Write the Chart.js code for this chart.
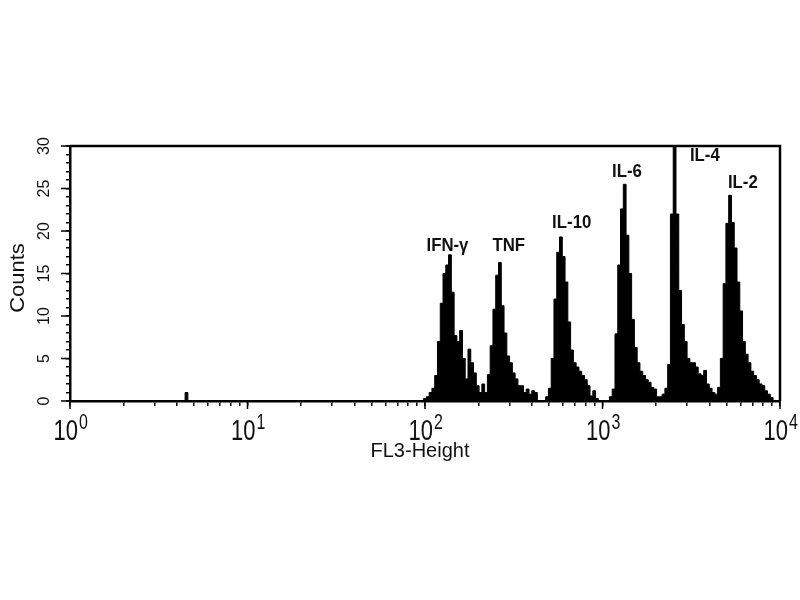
<!DOCTYPE html>
<html>
<head>
<meta charset="utf-8">
<title>FL3-Height histogram</title>
<script src="https://cdn.jsdelivr.net/npm/chart.js@4.4.0/dist/chart.umd.min.js"></script>
<style>
  html, body { margin: 0; padding: 0; background: #fff; }
  #wrap { width: 800px; height: 600px; }
</style>
</head>
<body>
<div id="wrap"><canvas id="histChart" width="800" height="600"></canvas></div>
<script>
// 256 channels over 4 decades -> 64 channels per decade
const CHANNELS_PER_DECADE = 64;
const LAST_CHANNEL = 256;

// lone event far left
const blipChannels = [42];
const blipCounts = [1];

// counts for channels 128..255 (the six bead peaks)
const firstPeakChannel = 128;
const peakCounts = [
  0.3, 0.5, 1, 1.5, 3, 7, 11.5, 15, 16, 17.2, 12.8, 7.7, 7, 8.3, 5, 2.6,
  6.1, 4.5, 3.3, 1.8, 1, 2, 1, 3.1, 6.5, 10.8, 14.8, 16.3, 11.2, 8, 5.3, 4.5,
  3.3, 2.6, 1.8, 1.8, 1, 1.4, 0.8, 1.2, 1, 0, 0, 0, 0.5, 1.5, 5, 12,
  17.5, 19.3, 17, 14, 9.3, 6, 4.5, 4, 3.5, 3, 2.5, 1.8, 0.6, 1.2, 0.3, 0,
  0, 0, 0, 0.5, 1.4, 7.9, 16, 22.6, 25.5, 19.5, 15, 9.6, 6.3, 4.5, 3.5, 3,
  2.5, 2.2, 1.6, 1.4, 0.5, 0.5, 0.8, 1.5, 4.3, 22, 30, 22, 13, 9, 7, 5,
  4.5, 4.5, 4, 3.2, 3, 3.6, 2, 1.5, 1, 0.8, 1.6, 5, 13.8, 20.9, 24.2, 21,
  18, 14, 10.6, 7, 5.5, 4.5, 3.5, 3, 2.5, 2, 1.8, 1.2, 0.8, 0.4, 0, 0
];

// peak annotations (label centre in channel / count units)
const peakLabels = ["IFN-γ", "TNF", "IL-10", "IL-6", "IL-4", "IL-2"];
const labelChannels = [136.1, 158.2, 180.9, 200.8, 228.9, 242.6];
const labelCounts = [18.2, 18.2, 21.0, 26.9, 28.8, 25.7];

// axes
const xDecades = [0, 1, 2, 3, 4];
const yTickLabels = [0, 5, 10, 15, 20, 25, 30];
const yMax = 30;

const FONT = '"Liberation Sans", Arial, sans-serif';

function channelToValue(ch) {
  return Math.pow(10, ch / CHANNELS_PER_DECADE);
}

// histogram points sit on the left edge of each channel bin,
// the step holds the count until the next edge
const points = [{ x: channelToValue(0), y: 0 }];
blipChannels.forEach((ch, i) => {
  points.push({ x: channelToValue(ch - 0.5), y: blipCounts[i] });
  points.push({ x: channelToValue(ch + 0.5), y: 0 });
});
peakCounts.forEach((c, i) => {
  points.push({ x: channelToValue(firstPeakChannel + i - 0.5), y: c });
});
points.push({ x: channelToValue(LAST_CHANNEL - 0.5), y: 0 });
points.push({ x: channelToValue(LAST_CHANNEL), y: 0 });

// 1..9 x 10^n tick marks
const xTickValues = [];
xDecades.slice(0, -1).forEach((d) => {
  for (let m = 1; m <= 9; m++) xTickValues.push(m * Math.pow(10, d));
});
xTickValues.push(Math.pow(10, xDecades[xDecades.length - 1]));

// frame, major ticks and all the text
const decorations = {
  id: "decorations",
  afterDraw(chart) {
    const ctx = chart.ctx;
    const area = chart.chartArea;
    const xs = chart.scales.x;
    const ys = chart.scales.y;
    ctx.save();
    ctx.strokeStyle = "#000";
    ctx.fillStyle = "#111";

    // top and right frame
    ctx.lineWidth = 2.5;
    ctx.beginPath();
    ctx.moveTo(area.left, area.top);
    ctx.lineTo(area.right, area.top);
    ctx.lineTo(area.right, area.bottom);
    ctx.stroke();

    // longer major ticks
    ctx.lineWidth = 1.5;
    yTickLabels.forEach((v) => {
      const y = ys.getPixelForValue(v);
      ctx.beginPath();
      ctx.moveTo(area.left - 9, y);
      ctx.lineTo(area.left, y);
      ctx.stroke();
    });
    xDecades.forEach((d) => {
      const x = xs.getPixelForValue(Math.pow(10, d));
      ctx.beginPath();
      ctx.moveTo(x, area.bottom);
      ctx.lineTo(x, area.bottom + 8);
      ctx.stroke();
    });

    // y tick labels, rotated
    ctx.font = "16px " + FONT;
    ctx.textAlign = "center";
    ctx.textBaseline = "middle";
    yTickLabels.forEach((v) => {
      const y = ys.getPixelForValue(v);
      ctx.save();
      ctx.translate(45, y);
      ctx.rotate(-Math.PI / 2);
      ctx.fillText(String(v), 0, 0);
      ctx.restore();
    });

    // x tick labels 10^n
    ctx.textBaseline = "alphabetic";
    xDecades.forEach((d) => {
      const x = xs.getPixelForValue(Math.pow(10, d));
      ctx.save();
      ctx.translate(x + 8, area.bottom + 39);
      ctx.scale(1, 1.3);
      ctx.font = "22px " + FONT;
      ctx.textAlign = "right";
      ctx.fillText("10", 0, 0);
      ctx.restore();
      ctx.save();
      ctx.translate(x + 9, area.bottom + 28);
      ctx.scale(1, 1.4);
      ctx.font = "16px " + FONT;
      ctx.textAlign = "left";
      ctx.fillText(String(d), 0, 0);
      ctx.restore();
    });

    // axis titles
    ctx.font = "20px " + FONT;
    ctx.textAlign = "center";
    ctx.fillText("FL3-Height", 420, 457);
    ctx.save();
    ctx.translate(18, 278);
    ctx.rotate(-Math.PI / 2);
    ctx.scale(1.1, 1);
    ctx.textBaseline = "middle";
    ctx.fillText("Counts", 0, 0);
    ctx.restore();

    // peak labels
    ctx.textBaseline = "middle";
    peakLabels.forEach((label, i) => {
      const x = xs.getPixelForValue(channelToValue(labelChannels[i]));
      const y = ys.getPixelForValue(labelCounts[i]);
      ctx.save();
      ctx.translate(x, y);
      ctx.scale(1.05, 1.15);
      ctx.font = "bold 16px " + FONT;
      ctx.fillText(label, 0, 0);
      ctx.restore();
    });
    ctx.restore();
  },
};

const ctx = document.getElementById("histChart").getContext("2d");
const histChart = new Chart(ctx, {
  type: "line",
  data: {
    datasets: [
      {
        label: "Counts",
        data: points,
        stepped: "before",
        fill: "origin",
        backgroundColor: "#000",
        borderColor: "#000",
        borderWidth: 1,
        pointRadius: 0,
      },
    ],
  },
  options: {
    responsive: false,
    animation: false,
    devicePixelRatio: 1,
    layout: { padding: { top: 146, right: 20, left: 0, bottom: 0 } },
    plugins: {
      legend: { display: false },
      tooltip: { enabled: false },
    },
    scales: {
      x: {
        type: "logarithmic",
        min: 1,
        max: 10000,
        afterBuildTicks: (scale) => {
          scale.ticks = xTickValues.map((v) => ({ value: v }));
        },
        afterFit: (scale) => {
          scale.height = 199;
        },
        ticks: { display: false },
        grid: {
          drawOnChartArea: false,
          color: "#000",
          lineWidth: 1.5,
          tickLength: 5,
        },
        border: { color: "#000", width: 2.5 },
      },
      y: {
        min: 0,
        max: yMax,
        ticks: { display: false, stepSize: 1 },
        afterFit: (scale) => {
          scale.width = 70;
        },
        grid: {
          drawOnChartArea: false,
          color: "#000",
          lineWidth: 1.5,
          tickLength: 4,
        },
        border: { color: "#000", width: 2.5 },
      },
    },
  },
  plugins: [decorations],
});
</script>
</body>
</html>
